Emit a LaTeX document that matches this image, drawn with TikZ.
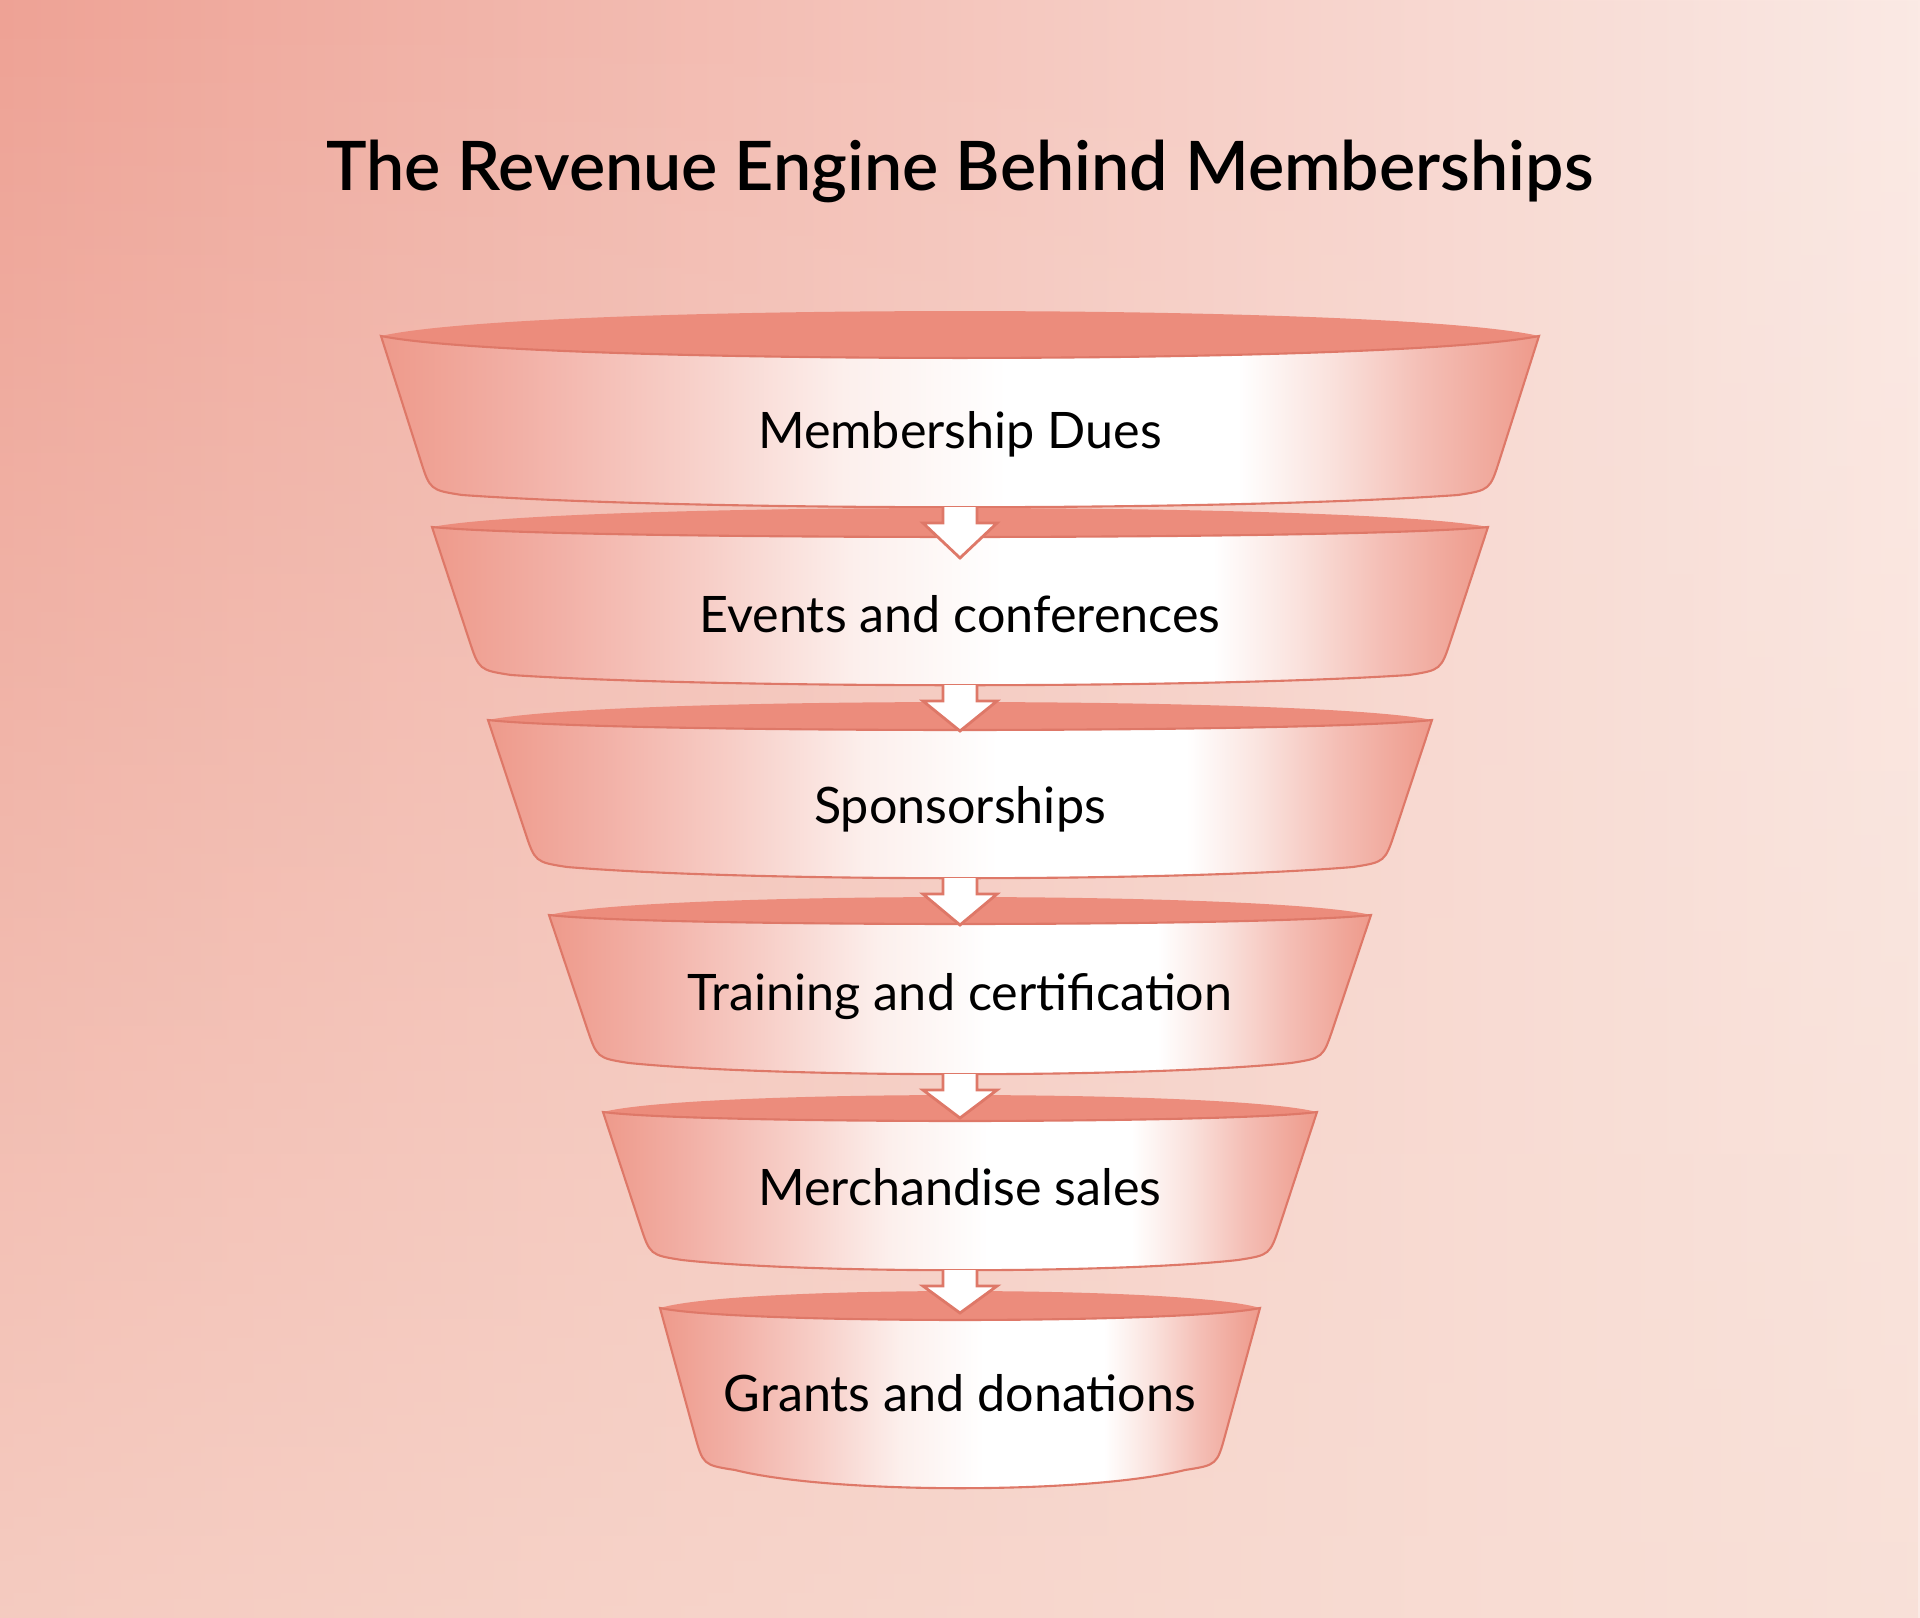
\documentclass[tikz,border=0pt]{standalone}
\usepackage{fontspec}
\setmainfont{Lato}
\newfontfamily\titlefont{Lato Semibold}
\usetikzlibrary{calc,fadings}

\definecolor{bgleft}{HTML}{EEA295}
\definecolor{bgmid}{HTML}{F5CFC7}
\definecolor{bgright}{HTML}{FBEAE5}
\definecolor{bglow}{HTML}{F8DDD3}
\definecolor{bandedge}{HTML}{EE9A8B}
\definecolor{bandpink}{HTML}{F2B0A6}
\definecolor{bandpale}{HTML}{F7CEC7}
\definecolor{bandblush}{HTML}{FCEFEC}
\definecolor{bandrose}{HTML}{FAE2DD}
\definecolor{bandsalmon}{HTML}{F4BEB5}
\definecolor{bandrim}{HTML}{EC8C7C}
\definecolor{bandline}{HTML}{DE7868}

\pgfdeclarehorizontalshading{bandshade}{100bp}{color(0bp)=(bandedge); color(25bp)=(bandedge);
  color(31bp)=(bandpink); color(38bp)=(bandpale); color(45bp)=(bandblush); color(52bp)=(white);
  color(62bp)=(white); color(66bp)=(bandrose); color(70bp)=(bandsalmon); color(75bp)=(bandedge);
  color(100bp)=(bandedge)}

% one funnel band: top half width, rim y, rim up, rim down, bottom half width, bottom y, bottom sag
\newcommand{\funnelband}[7]{%
  \fill[bandrim] ({960-#1},#2) .. controls ({960-0.75*#1},{#2-1.33*#3}) and ({960+0.75*#1},{#2-1.33*#3}) .. ({960+#1},#2)
    .. controls ({960+0.75*#1},{#2+1.33*#4}) and ({960-0.75*#1},{#2+1.33*#4}) .. ({960-#1},#2) -- cycle;
  \shadedraw[bandbody] ({960-#1},#2) -- ($({960-#5},#6)!0.32cm!({960-#1},#2)$)
    .. controls ({960-#5},#6) .. ({960-#5+32},{#6+5})
    .. controls ({960-0.5*#5},{#6+1.33*#7}) and ({960+0.5*#5},{#6+1.33*#7}) .. ({960+#5-32},{#6+5})
    .. controls ({960+#5},#6) .. ($({960+#5},#6)!0.32cm!({960+#1},#2)$)
    -- ({960+#1},#2)
    .. controls ({960+0.75*#1},{#2+1.33*#4}) and ({960-0.75*#1},{#2+1.33*#4}) .. ({960-#1},#2) -- cycle;
}

\begin{document}
\begin{tikzpicture}[
  x=0.01cm, y=-0.01cm,
  bandbody/.style={shading=bandshade, draw=bandline, line width=0.6pt},
  bandlabel/.style={anchor=base, inner sep=0pt, font=\fontsize{14.3}{17}\selectfont},
  titlelabel/.style={anchor=base, inner sep=0pt, font=\fontsize{19.4}{23}\selectfont\titlefont},
  flowarrow/.style={draw=bandline, fill=white, line width=0.8pt, line join=miter,
    to path={let \p1=(\tikztostart), \p2=(\tikztotarget) in
      (\x1-0.17cm,\y1) -- (\x1-0.17cm,\y1-0.16cm) -- (\x1-0.37cm,\y1-0.16cm) -- (\x2,\y2)
      -- (\x1+0.37cm,\y1-0.16cm) -- (\x1+0.17cm,\y1-0.16cm) -- (\x1+0.17cm,\y1)}}
]
  \useasboundingbox (0,0) rectangle (1920,1618);
  \shade[left color=bgleft, middle color=bgmid, right color=bgright] (0,0) rectangle (1920,1618);
  \fill[bglow, path fading=north, fill opacity=0.7] (0,0) rectangle (1920,1618);

  \node[titlelabel] (title) at (960,190) {The Revenue Engine Behind Memberships};

  \funnelband{579}{336}{25}{22}{530}{490}{16}
  \funnelband{528}{527}{19}{10}{481}{670}{14}
  \funnelband{472}{720}{18}{10}{425}{862}{15}
  \funnelband{411}{915}{18}{9}{363}{1058}{15}
  \funnelband{357}{1112}{17}{9}{310}{1255}{14}
  \funnelband{300}{1308}{17}{12}{257}{1465}{22}

  \node[bandlabel] (dues) at (960,448) {Membership Dues};
  \node[bandlabel] (events) at (960,632) {Events and conferences};
  \node[bandlabel] (sponsors) at (960,823) {Sponsorships};
  \node[bandlabel] (training) at (960,1010) {Training and certification};
  \node[bandlabel] (merch) at (960,1205) {Merchandise sales};
  \node[bandlabel] (grants) at (960,1411) {Grants and donations};

  \coordinate (duesout) at (960,507);
  \coordinate (eventsin) at (960,558);
  \coordinate (eventsout) at (960,685);
  \coordinate (sponsorsin) at (960,731);
  \coordinate (sponsorsout) at (960,878);
  \coordinate (trainingin) at (960,925);
  \coordinate (trainingout) at (960,1074);
  \coordinate (merchin) at (960,1118);
  \coordinate (merchout) at (960,1270);
  \coordinate (grantsin) at (960,1313);

  \draw[flowarrow] (duesout) to (eventsin);
  \draw[flowarrow] (eventsout) to (sponsorsin);
  \draw[flowarrow] (sponsorsout) to (trainingin);
  \draw[flowarrow] (trainingout) to (merchin);
  \draw[flowarrow] (merchout) to (grantsin);
\end{tikzpicture}
\end{document}
